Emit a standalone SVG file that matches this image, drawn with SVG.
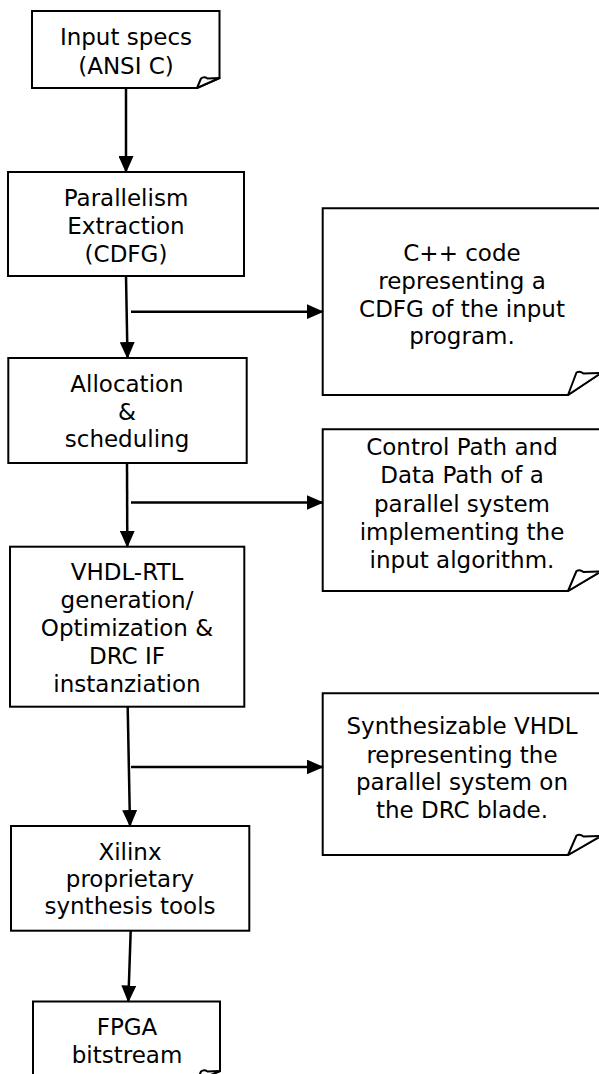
<svg xmlns="http://www.w3.org/2000/svg" width="599" height="1074" viewBox="0 0 599 1074">
<style>
  .box { fill: #ffffff; stroke: #000000; stroke-width: 2; }
  .curl { fill: #ffffff; stroke: #000000; stroke-width: 2; stroke-linejoin: round; }
  .t { font-family: "DejaVu Sans", Verdana, sans-serif; font-size: 23px; fill: #000000; text-anchor: middle; }
  .edge { fill: none; stroke: #000000; stroke-width: 2.5; }
</style>
<defs>
  <marker id="arrow" markerUnits="userSpaceOnUse" markerWidth="17" markerHeight="15" refX="16" refY="7.5" orient="auto">
    <path d="M0,0 L17,7.5 L0,15 Z" fill="#000000"/>
  </marker>
</defs>
<rect width="599" height="1074" fill="#ffffff"/>

<g id="input-specs">
  <path class="box" d="M32,11 H219.5 V78 L197,88 H32 Z"/>
  <path class="curl" d="M197,88 L201,78.5 Q204,76 207.5,78.5 L219.5,78 Z"/>
  <text class="t" x="126" y="45">Input specs</text>
  <text class="t" x="126" y="74">(ANSI C)</text>
</g>

<g id="parallelism">
  <rect class="box" x="8" y="172" width="236" height="104"/>
  <text class="t" x="126" y="206">Parallelism</text>
  <text class="t" x="126" y="233.5">Extraction</text>
  <text class="t" x="126" y="261.5">(CDFG)</text>
</g>

<g id="cpp-code">
  <path class="box" d="M322.7,208.3 H601 V373 L568,395 H322.7 Z"/>
  <path class="curl" d="M568,395 L576.5,372.5 Q580,370.5 583.5,373.5 L601,373 Z"/>
  <text class="t" x="462" y="261">C++ code</text>
  <text class="t" x="462" y="288.5">representing a</text>
  <text class="t" x="462" y="316.5">CDFG of the input</text>
  <text class="t" x="462" y="344">program.</text>
</g>

<g id="allocation">
  <rect class="box" x="8.3" y="358" width="238.4" height="105"/>
  <text class="t" x="127" y="392">Allocation</text>
  <text class="t" x="127" y="419.5">&amp;</text>
  <text class="t" x="127" y="447">scheduling</text>
</g>

<g id="control-path">
  <path class="box" d="M322.7,429.3 H601 V571.5 L568,591 H322.7 Z"/>
  <path class="curl" d="M568,591 L576.5,571 Q580,569 583.5,572 L601,571.5 Z"/>
  <text class="t" x="462" y="455">Control Path and</text>
  <text class="t" x="462" y="483.3">Data Path of a</text>
  <text class="t" x="462" y="511.7">parallel system</text>
  <text class="t" x="462" y="540">implementing the</text>
  <text class="t" x="462" y="567.7">input algorithm.</text>
</g>

<g id="vhdl-rtl">
  <rect class="box" x="10" y="546.7" width="234.3" height="160"/>
  <text class="t" x="127" y="580">VHDL-RTL</text>
  <text class="t" x="127" y="608.3">generation/</text>
  <text class="t" x="127" y="636">Optimization &amp;</text>
  <text class="t" x="127" y="664.3">DRC IF</text>
  <text class="t" x="127" y="691.7">instanziation</text>
</g>

<g id="synth-vhdl">
  <path class="box" d="M322.7,693.3 H601 V836 L568,855 H322.7 Z"/>
  <path class="curl" d="M568,855 L576.5,835.5 Q580,833.5 583.5,836.5 L601,836 Z"/>
  <text class="t" x="462" y="734.3">Synthesizable VHDL</text>
  <text class="t" x="462" y="762.7">representing the</text>
  <text class="t" x="462" y="790">parallel system on</text>
  <text class="t" x="462" y="818.3">the DRC blade.</text>
</g>

<g id="xilinx">
  <rect class="box" x="11" y="826" width="238.3" height="104.7"/>
  <text class="t" x="130" y="860">Xilinx</text>
  <text class="t" x="130" y="886.7">proprietary</text>
  <text class="t" x="130" y="914.3">synthesis tools</text>
</g>

<g id="fpga">
  <path class="box" d="M33,1001.5 H220 V1071 L197,1081 H33 Z"/>
  <path class="curl" d="M197,1081 L201,1071.5 Q204,1069 207.5,1071.5 L220,1071 Z"/>
  <text class="t" x="127" y="1035">FPGA</text>
  <text class="t" x="127" y="1063">bitstream</text>
</g>

<g id="connectors">
  <path class="edge" d="M126,88 L126,172" marker-end="url(#arrow)"/>
  <path class="edge" d="M126,276 L127.5,358" marker-end="url(#arrow)"/>
  <path class="edge" d="M131,311.7 L322.7,311.7" marker-end="url(#arrow)"/>
  <path class="edge" d="M127,463 L127.3,546.7" marker-end="url(#arrow)"/>
  <path class="edge" d="M131,502.5 L322.7,502.5" marker-end="url(#arrow)"/>
  <path class="edge" d="M127.7,706.7 L130,826" marker-end="url(#arrow)"/>
  <path class="edge" d="M131,767 L322.7,767" marker-end="url(#arrow)"/>
  <path class="edge" d="M130.7,930.7 L128.3,1001.5" marker-end="url(#arrow)"/>
</g>
</svg>
